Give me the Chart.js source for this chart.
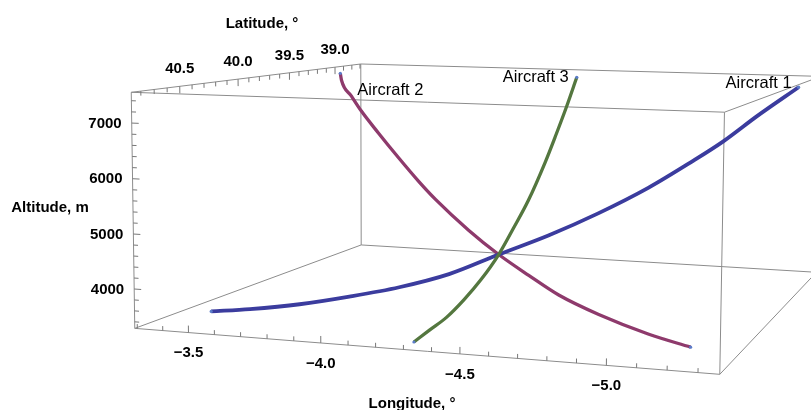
<!DOCTYPE html>
<html><head><meta charset="utf-8">
<script src="https://cdn.jsdelivr.net/npm/chart.js@4.4.1/dist/chart.umd.min.js"></script>
<style>html,body{margin:0;padding:0;background:#fff;overflow:hidden}</style>
</head><body><canvas id="c" width="811" height="410"></canvas>
<script>
// ---- flight paths: longitude (°), latitude (°), altitude (m) ----
const seriesNames = ['Aircraft 1', 'Aircraft 2', 'Aircraft 3'];

const lon1 = [-3.424, -3.548, -3.708, -3.870, -4.034, -4.199, -4.365, -4.532, -4.701, -4.872, -5.019, -5.129, -5.249, -5.391];
const lat1 = [40.540, 40.469, 40.378, 40.286, 40.193, 40.099, 40.005, 39.909, 39.813, 39.716, 39.632, 39.570, 39.501, 39.420];
const alt1 = [3334, 3360, 3430, 3555, 3715, 3950, 4315, 4670, 5090, 5580, 6080, 6480, 6990, 7550];

const lon2 = [-3.461, -3.468, -3.531, -3.593, -3.697, -3.817, -3.932, -4.028, -4.208, -4.365, -4.515, -4.659, -4.842, -5.058, -5.228];
const lat2 = [39.362, 39.366, 39.411, 39.456, 39.530, 39.615, 39.697, 39.765, 39.893, 40.005, 40.111, 40.214, 40.344, 40.497, 40.619];
const alt2 = [7550, 7401, 7080, 6784, 6364, 5903, 5485, 5170, 4675, 4315, 4035, 3790, 3601, 3460, 3413];

const lon3 = [-4.296, -4.307, -4.321, -4.335, -4.349, -4.365, -4.378, -4.392, -4.409, -4.420, -4.430, -4.441];
const lat3 = [40.755, 40.626, 40.484, 40.328, 40.174, 40.005, 39.858, 39.706, 39.529, 39.410, 39.299, 39.174];
const alt3 = [3280, 3377, 3488, 3690, 3946, 4315, 4736, 5204, 5895, 6420, 6930, 7550];

// ---- axes ----
const lonRange = [-3.29, -5.37];   // left .. right
const latRange = [40.87, 38.69];   // front .. back
const altRange = [3280, 7550];     // bottom .. top
const lonTicks = [-3.5, -4.0, -4.5, -5.0];
const latTicks = [40.5, 40.0, 39.5, 39.0];
const altTicks = [4000, 5000, 6000, 7000];
const lonMinorStep = 0.1, latMinorStep = 0.1, altMinorStep = 200;

// ---- perspective camera: fitted so the unit box corners land on the screen anchors ----
const cameraAnchors = [
  [0,0,0, 135,328.3], [1,0,0, 719.3,374.3], [0,0,1, 131,92.3], [1,0,1, 725,112.3],
  [0,1,1, 361,64],    [1,1,1, 820.5,76.3],  [0,1,0, 361,245],  [1,1,0, 816.8,272.3]
];
const S = 400;
function fitCamera(pts) {
  const A = [], b = [];
  for (const [X, Y, Z, x0, y0] of pts) {
    const x = x0 / S, y = y0 / S;
    A.push([X, Y, Z, 1, 0, 0, 0, 0, -x*X, -x*Y, -x*Z]); b.push(x);
    A.push([0, 0, 0, 0, X, Y, Z, 1, -y*X, -y*Y, -y*Z]); b.push(y);
  }
  const n = 11, M = [];
  for (let i = 0; i < n; i++) {
    M.push(new Array(n + 1).fill(0));
    for (let j = 0; j < n; j++) { let s = 0; for (let k = 0; k < A.length; k++) s += A[k][i]*A[k][j]; M[i][j] = s; }
    let s = 0; for (let k = 0; k < A.length; k++) s += A[k][i]*b[k]; M[i][n] = s;
  }
  for (let c = 0; c < n; c++) {
    let p = c;
    for (let r = c + 1; r < n; r++) if (Math.abs(M[r][c]) > Math.abs(M[p][c])) p = r;
    [M[c], M[p]] = [M[p], M[c]];
    for (let r = 0; r < n; r++) {
      if (r === c) continue;
      const f = M[r][c] / M[c][c];
      for (let k = c; k <= n; k++) M[r][k] -= f*M[c][k];
    }
  }
  return M.map((row, i) => row[n] / row[i]);
}
const P = fitCamera(cameraAnchors);
function proj(u, v, w) {
  const d = P[8]*u + P[9]*v + P[10]*w + 1;
  return { x: S*(P[0]*u + P[1]*v + P[2]*w + P[3]) / d, y: S*(P[4]*u + P[5]*v + P[6]*w + P[7]) / d };
}
const nu = lon => (lon - lonRange[0]) / (lonRange[1] - lonRange[0]);
const nv = lat => (lat - latRange[0]) / (latRange[1] - latRange[0]);
const nw = alt => (alt - altRange[0]) / (altRange[1] - altRange[0]);
const project3 = (lon, lat, alt) => lon.map((g, i) => proj(nu(g), nv(lat[i]), nw(alt[i])));

const minus = s => s.replace('-', '\u2212');
const minorRange = (a, b, step) => {
  const lo = Math.min(a, b), hi = Math.max(a, b), out = [];
  for (let k = Math.ceil(lo / step - 1e-9); k * step <= hi + 1e-9; k++) out.push(+(k * step).toFixed(6));
  return out;
};

const FONT = '"Liberation Sans", Arial, sans-serif';
const EDGE = '#8c8c8c';

const boxPlugin = {
  id: 'box3d',
  beforeDatasetsDraw(chart) {
    const c = chart.ctx;
    c.save();
    // box edges
    c.strokeStyle = EDGE; c.lineWidth = 1;
    const E = [[[0,0,0],[1,0,0]],[[0,0,1],[1,0,1]],[[0,1,0],[1,1,0]],[[0,1,1],[1,1,1]],
               [[0,0,0],[0,1,0]],[[1,0,0],[1,1,0]],[[0,0,1],[0,1,1]],[[1,0,1],[1,1,1]],
               [[0,0,0],[0,0,1]],[[1,0,0],[1,0,1]],[[0,1,0],[0,1,1]],[[1,1,0],[1,1,1]]];
    c.beginPath();
    for (const [a, b] of E) { const p = proj(...a), q = proj(...b); c.moveTo(p.x, p.y); c.lineTo(q.x, q.y); }
    c.stroke();

    // tick marks
    const tick = (q, dir, len) => {
      const a = proj(...q), b = proj(q[0] + dir[0]*0.01, q[1] + dir[1]*0.01, q[2] + dir[2]*0.01);
      const dx = b.x - a.x, dy = b.y - a.y, L = Math.hypot(dx, dy);
      c.moveTo(a.x, a.y); c.lineTo(a.x + dx / L * len, a.y + dy / L * len);
    };
    const isMajor = (v, list) => list.some(t => Math.abs(t - v) < 1e-6);
    c.strokeStyle = '#777'; c.beginPath();
    for (const v of minorRange(lonRange[0], lonRange[1], lonMinorStep)) tick([nu(v), 0, 0], [0, 0, 1], isMajor(v, lonTicks) ? 7 : 4.5);
    for (const v of minorRange(latRange[0], latRange[1], latMinorStep)) tick([0, nv(v), 1], [0, 0, -1], isMajor(v, latTicks) ? 7 : 4.5);
    for (const v of minorRange(altRange[0], altRange[1], altMinorStep)) tick([0, 0, nw(v)], [1, 0, 0], isMajor(v, altTicks) ? 7 : 4.5);
    c.stroke();

    // tick labels
    c.fillStyle = '#000'; c.font = 'bold 15px ' + FONT; c.textBaseline = 'middle';
    c.textAlign = 'center';
    for (const v of lonTicks) { const p = proj(nu(v), 0, 0); c.fillText(minus(v.toFixed(1)), p.x, p.y + 20.5); }
    for (const v of latTicks) { const p = proj(0, nv(v), 1); c.fillText(v.toFixed(1), p.x, p.y - 17); }
    c.textAlign = 'right';
    for (const v of altTicks) { const p = proj(0, 0, nw(v)); c.fillText(String(v), p.x - 10, p.y + 0.5); }

    // axis titles
    c.textAlign = 'center';
    c.fillText('Longitude, \u00b0', 412, 404);
    c.fillText('Latitude, \u00b0', 262, 24);
    c.fillText('Altitude, m', 50, 208);
    c.restore();
  },
  afterDatasetsDraw(chart) {
    const c = chart.ctx;
    c.save();
    c.fillStyle = '#000'; c.font = '16.5px ' + FONT; c.textBaseline = 'middle';
    const spots = [
      { ds: 0, idx: 'last',  align: 'right', dx: -7, dy: -4 },
      { ds: 1, idx: 'first', align: 'left',  dx: 17, dy: 17.5 },
      { ds: 2, idx: 'last',  align: 'right', dx: -8, dy: 0 }
    ];
    for (const s of spots) {
      const d = chart.data.datasets[s.ds].data;
      const p = s.idx === 'first' ? d[0] : d[d.length - 1];
      const px = chart.scales.x.getPixelForValue(p.x), py = chart.scales.y.getPixelForValue(p.y);
      c.textAlign = s.align;
      c.fillText(seriesNames[s.ds], px + s.dx, py + s.dy);
    }
    c.restore();
  }
};

const endDot = ctx => (ctx.dataIndex === 0 || ctx.dataIndex === ctx.dataset.data.length - 1) ? 1.6 : 0;
const makeSeries = (name, pts, color, width, order) => ({
  label: name, data: pts, borderColor: color, borderWidth: width, showLine: true,
  cubicInterpolationMode: 'monotone', order,
  pointRadius: endDot, pointBackgroundColor: '#5b7cc9', pointBorderWidth: 0, pointHoverRadius: 0
});

new Chart(document.getElementById('c'), {
  type: 'scatter',
  data: {
    datasets: [
      makeSeries(seriesNames[0], project3(lon1, lat1, alt1), '#3b3c9e', 3.8, 1),
      makeSeries(seriesNames[1], project3(lon2, lat2, alt2), '#8e3a6c', 3.3, 2),
      makeSeries(seriesNames[2], project3(lon3, lat3, alt3), '#54773f', 3.3, 0)
    ]
  },
  options: {
    responsive: false, animation: false, events: [],
    layout: { padding: 0 },
    plugins: { legend: { display: false }, tooltip: { enabled: false } },
    scales: {
      x: { type: 'linear', min: 0, max: 811, display: false },
      y: { type: 'linear', min: 0, max: 410, reverse: true, display: false }
    }
  },
  plugins: [boxPlugin]
});
</script></body></html>
